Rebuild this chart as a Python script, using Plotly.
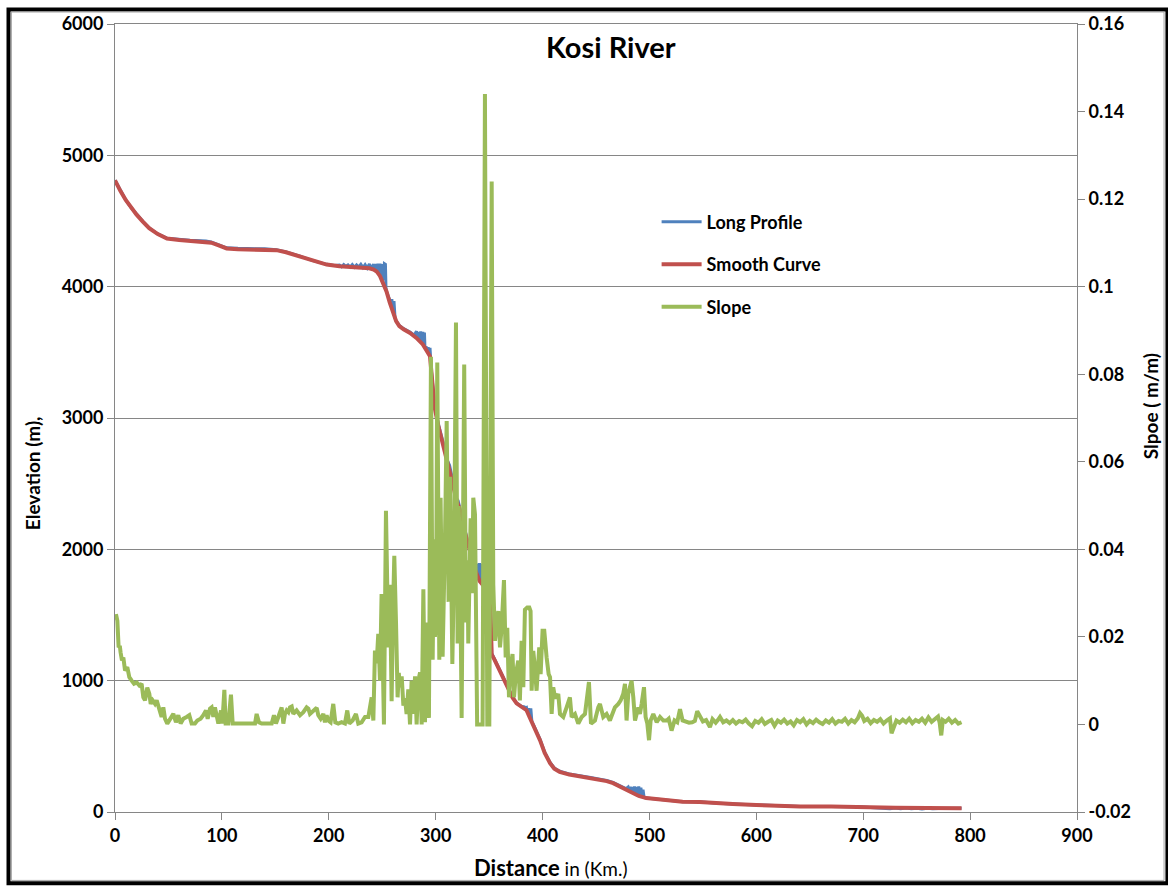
import plotly.graph_objects as go

# ---- Long profile of the Kosi River -------------------------------------
# Raw long profile (distance in km, elevation in m)
profile_km = [0, 5, 10, 15, 20, 26, 32, 40, 48.6, 60, 70, 75, 80, 85, 90, 97, 104.5, 115, 130,
              140, 151, 160, 173, 185, 198, 205, 210, 212, 214, 216, 218, 220, 222, 224, 226,
              228, 230, 232, 234, 236, 238, 240, 242, 243, 244, 245, 246, 247, 248, 249, 250,
              251, 252, 253, 253.5, 254, 256, 257, 258, 259, 260, 261, 262, 263, 266, 270, 276,
              280, 282, 283, 284, 285, 286, 287, 288, 289, 289.5, 290, 291, 292, 293, 294, 294.7,
              295.5, 296, 299, 302.5, 307, 311.5, 313, 315, 317, 319.6, 321, 322.7, 325, 327,
              330, 332, 335, 337, 339, 340, 341, 342, 343, 344, 345, 346, 348, 350.8, 351.6,
              352.4, 355, 358, 363, 368, 372, 375.7, 380, 383, 384, 385, 386, 387, 388, 389,
              390, 392, 397.6, 402, 407, 411, 416, 425, 438, 445, 450, 460, 466, 472, 478, 480,
              481, 482, 483, 484, 485, 486, 487, 488, 489, 490, 491, 492, 493, 494, 495, 497,
              510, 520, 531, 547, 560, 578, 600, 620, 641, 670, 697, 710, 720, 725, 730, 735,
              740, 745, 750, 755, 760, 765, 770, 780, 792]
profile_elev = [4810, 4730, 4662, 4602, 4552, 4498, 4447, 4402, 4369, 4358, 4354, 4352, 4352,
                4348, 4340, 4320, 4296, 4292, 4291, 4288, 4282, 4265, 4233, 4198, 4170, 4162,
                4165, 4152, 4168, 4155, 4166, 4150, 4168, 4148, 4166, 4150, 4170, 4145, 4168,
                4142, 4172, 4140, 4170, 4132, 4172, 4118, 4175, 4100, 4175, 4085, 4172, 4050,
                4175, 4170, 3990, 3964, 3920, 3900, 3850, 3905, 3810, 3890, 3760, 3740, 3705,
                3680, 3655, 3630, 3660, 3600, 3655, 3590, 3660, 3570, 3655, 3560, 3650, 3530,
                3545, 3510, 3540, 3480, 3535, 3420, 3360, 3095, 2955, 2815, 2665, 2640, 2560,
                2490, 2385, 2370, 2310, 2240, 2150, 2060, 2000, 1900, 1850, 1890, 1790, 1895,
                1770, 1890, 1745, 1885, 1725, 1710, 1695, 1460, 1210, 1165, 1115, 1030, 945,
                875, 830, 805, 800, 790, 795, 760, 790, 730, 790, 690, 655, 555, 455, 378, 335,
                310, 290, 275, 262, 255, 240, 225, 200, 178, 190, 160, 192, 150, 190, 145, 195,
                140, 190, 130, 195, 125, 185, 118, 170, 110, 106, 95, 85, 78, 78, 68, 61, 53,
                47, 42, 41, 40, 33, 29, 25, 31, 24, 30, 24, 29, 23, 28, 24, 27, 26, 28]

# Smoothed profile
smooth_km = [0, 1, 5, 10, 15, 20, 26, 32, 40, 48.6, 60, 70, 79.5, 90, 97, 104.5, 115, 130, 140,
             151, 160, 173, 185, 198, 210, 220, 230, 238, 242, 244.8, 248, 251, 254, 257, 260,
             263, 266, 270, 276, 282, 288, 292, 294.7, 296, 299, 302.5, 307, 311.5, 315, 319.6,
             322.7, 327, 332, 337, 341, 345, 350.8, 351.6, 352.4, 355, 358, 363, 368, 372,
             375.7, 380, 385, 388, 392, 397.6, 402, 407, 411, 416, 425, 438, 450, 460, 466, 472,
             478, 485, 490, 497, 510, 520, 531, 547, 560, 578, 600, 620, 641, 670, 697, 710,
             730, 760, 792]
smooth_elev = [4810, 4790, 4730, 4660, 4600, 4550, 4496, 4445, 4400, 4367, 4355, 4350, 4345,
               4335, 4315, 4291, 4285, 4285, 4283, 4278, 4262, 4230, 4195, 4168, 4155, 4150,
               4145, 4140, 4130, 4116, 4080, 4030, 3964, 3880, 3800, 3737, 3700, 3675, 3648,
               3610, 3560, 3510, 3470, 3350, 3080, 2940, 2800, 2650, 2530, 2370, 2300, 2140,
               1990, 1840, 1760, 1720, 1690, 1450, 1200, 1160, 1110, 1025, 940, 870, 827, 800,
               775, 720, 650, 547, 450, 372, 330, 306, 285, 268, 250, 235, 220, 195, 168, 144,
               122, 106, 95, 85, 78, 76, 68, 61, 53, 47, 42, 41, 40, 34, 32, 30, 28]

# Channel slope (m/m)
slope_km = [0.9, 1.5, 2.2, 3.4, 4.5, 5.2, 6.5, 7.8, 9.4, 11.5, 13.4, 15.6, 17.8, 20.3, 22.8,
            24.9, 26.5, 28.1, 30.2, 32.1, 33.4, 35.2, 37.4, 39.0, 41.5, 43.6, 45.2, 46.8, 48.9,
            51.4, 54.6, 57.0, 59.2, 61.4, 63.9, 67.0, 69.5, 71.7, 74.8, 77.0, 80.1, 82.6, 85.1,
            86.7, 88.9, 90.4, 92.0, 93.5, 95.1, 96.7, 99.2, 100.4, 102.3, 103.5, 106.0, 108.5,
            110.1, 131.0, 132.5, 134.7, 137.2, 141.9, 146.6, 148.7, 150.6, 152.8, 154.4, 155.9,
            157.5, 159.0, 160.6, 162.2, 163.7, 165.3, 166.8, 169.9, 173.1, 176.2, 179.3, 180.9,
            182.4, 185.6, 188.7, 190.2, 192.4, 194.9, 196.4, 198.0, 199.6, 201.7, 204.2, 206.1,
            208.9, 212.0, 215.1, 217.3, 219.2, 222.3, 225.4, 227.6, 230.7, 233.9, 237.0, 240.1,
            241.7, 243.2, 244.8, 246.3, 247.9, 249.4, 250.5, 251.6, 253.5, 254.8, 255.7, 257.2,
            258.8, 260.0, 261.3, 262.9, 264.4, 265.5, 266.6, 268.2, 269.8, 271.3, 272.8, 274.4,
            276.0, 277.5, 279.1, 280.7, 282.2, 283.8, 285.4, 286.9, 288.5, 290.0, 291.6, 293.7,
            295.6, 297.2, 298.4, 299.3, 300.3, 301.5, 303.4, 304.6, 306.5, 308.7, 310.3, 312.1,
            313.4, 315.6, 317.1, 319.0, 320.5, 321.6, 323.0, 324.3, 326.7, 328.3, 329.8, 330.5,
            332.7, 334.0, 335.2, 336.8, 337.7, 338.8, 341.5, 343.9, 346.1, 348.3, 350.2, 352.4,
            353.9, 355.5, 357.0, 358.6, 360.2, 361.7, 363.9, 365.5, 367.0, 368.6, 370.1, 371.9,
            373.3, 375.0, 377.3, 378.8, 380.4, 382.0, 383.5, 385.7, 387.6, 388.8, 389.8, 391.3,
            392.8, 394.4, 396.9, 398.2, 400.0, 401.6, 403.8, 405.7, 407.0, 408.5, 410.0, 411.6,
            413.2, 414.7, 416.3, 419.4, 422.5, 425.6, 427.2, 430.3, 433.4, 436.6, 439.7, 441.2,
            443.4, 445.3, 449.0, 452.1, 453.7, 456.8, 459.9, 463.0, 466.2, 467.7, 470.9, 473.1,
            475.5, 477.1, 478.6, 480.2, 481.7, 483.3, 484.9, 486.5, 489.6, 491.1, 492.7, 494.9,
            496.4, 498.0, 499.6, 501.1, 503.6, 506.8, 509.9, 513.0, 516.2, 518.0, 520.7, 523.5,
            526, 528.6, 531, 534, 537, 540, 542.5, 544.7, 547, 550, 553, 556.6, 559, 562, 564,
            566, 569, 572, 575, 578, 581, 584, 587, 590, 593, 596, 599, 602, 605, 608, 611, 614,
            617, 620, 623, 626, 629, 632, 635, 638, 641, 644, 647, 650, 653, 656, 659, 662, 665,
            668, 671, 674, 677, 680, 683, 686, 689, 692, 695, 697, 699, 701, 704, 707, 710, 713,
            716, 719, 722, 725, 726.5, 728, 731, 734, 737, 740, 743, 746, 749, 752, 755, 758,
            761, 764, 767, 770, 771.5, 773, 774.5, 777, 780, 783, 786, 789, 792]
slope_val = [0.0252, 0.0245, 0.0237, 0.0176, 0.0180, 0.0165, 0.0146, 0.0153, 0.0123, 0.0131,
             0.0108, 0.0100, 0.0093, 0.0096, 0.0089, 0.0093, 0.0062, 0.0055, 0.0084, 0.0070,
             0.0047, 0.0055, 0.0047, 0.0055, 0.0032, 0.0017, 0.0039, 0.0013, 0.0002, 0.0013,
             0.0024, 0.0005, 0.0021, 0.0002, 0.0013, 0.0017, 0.0021, 0.0002, 0.0002, 0.0009,
             0.0013, 0.0021, 0.0032, 0.0013, 0.0036, 0.0039, 0.0017, 0.0039, 0.0021, 0.0002,
             0.0032, 0.0002, 0.0079, 0.0002, 0.0002, 0.0068, 0.0002, 0.0002, 0.0024, 0.0005,
             0.0002, 0.0002, 0.0002, 0.0021, 0.0002, 0.0017, 0.0028, 0.0039, 0.0002, 0.0024,
             0.0032, 0.0028, 0.0039, 0.0041, 0.0024, 0.0032, 0.0021, 0.0028, 0.0039, 0.0036,
             0.0024, 0.0032, 0.0038, 0.0021, 0.0013, 0.0024, 0.0005, 0.0021, 0.0009, 0.0005,
             0.0047, 0.0005, 0.0002, 0.0005, 0.0002, 0.0032, 0.0002, 0.0009, 0.0024, 0.0002,
             0.0005, 0.0017, 0.0017, 0.0062, 0.0009, 0.0169, 0.0140, 0.0207, 0.0100, 0.0298,
             0.0150, 0.0000, 0.0488, 0.0280, 0.0176, 0.0319, 0.0053, 0.0250, 0.0385, 0.0233,
             0.0062, 0.0118, 0.0085, 0.0110, 0.0043, 0.0060, 0.0024, 0.0080, 0.0000, 0.0100,
             0.0024, 0.0110, 0.0000, 0.0100, 0.0119, 0.0000, 0.0309, 0.0005, 0.0233, 0.0015,
             0.0840, 0.0148, 0.0423, 0.0200, 0.0233, 0.0827, 0.0148, 0.0518, 0.0155, 0.0423,
             0.0693, 0.0280, 0.0566, 0.0138, 0.0347, 0.0918, 0.0185, 0.0499, 0.0328, 0.0015,
             0.0822, 0.0233, 0.0375, 0.0185, 0.0471, 0.0300, 0.0518, 0.0480, 0.0280, 0.0000,
             0.0000, 0.0000, 0.1440, 0.0000, 0.0000, 0.1240, 0.0320, 0.0191, 0.0229, 0.0259,
             0.0176, 0.0221, 0.0330, 0.0153, 0.0221, 0.0062, 0.0131, 0.0161, 0.0062, 0.0115,
             0.0146, 0.0055, 0.0191, 0.0085, 0.0262, 0.0267, 0.0267, 0.0259, 0.0077, 0.0168,
             0.0131, 0.0077, 0.0176, 0.0115, 0.0214, 0.0214, 0.0153, 0.0115, 0.0108, 0.0024,
             0.0085, 0.0062, 0.0062, 0.0070, 0.0024, 0.0017, 0.0039, 0.0062, 0.0017, 0.0024,
             0.0002, 0.0017, 0.0024, 0.0062, 0.0097, 0.0002, 0.0009, 0.0039, 0.0047, 0.0017,
             0.0024, 0.0009, 0.0032, 0.0039, 0.0047, 0.0055, 0.0070, 0.0093, 0.0009, 0.0070,
             0.0085, 0.0100, 0.0062, 0.0009, 0.0039, 0.0024, 0.0047, 0.0085, 0.0017, 0.0002,
             -0.0036, 0.0009, 0.0024, 0.0005, 0.0017, 0.0009, 0.0009, 0.0013, -0.0014, 0.0009,
             0.0005, 0.0035, 0.0009, 0.0006, 0.0004, 0.0005, 0.0008, 0.0030, 0.0018, 0.0007,
             0.0010, -0.0006, 0.0012, 0.0004, 0.0010, 0.0017, 0.0005, 0.0009, 0.0003, 0.0010,
             0.0002, 0.0008, 0.0005, 0.0011, 0.0002, -0.0004, 0.0008, 0.0004, 0.0012, 0.0001,
             0.0006, 0.0010, -0.0003, 0.0009, 0.0004, 0.0011, 0.0002, 0.0007, -0.0002, 0.0010,
             0.0005, 0.0012, 0.0000, 0.0008, 0.0003, 0.0011, 0.0005, 0.0001, 0.0009, 0.0004,
             0.0012, 0.0002, 0.0008, 0.0006, 0.0013, 0.0002, 0.0010, 0.0005, 0.0014, 0.0026,
             0.0020, 0.0008, 0.0013, 0.0003, 0.0010, 0.0006, 0.0012, 0.0002, 0.0009, 0.0014,
             -0.0020, -0.0008, 0.0009, 0.0004, 0.0011, 0.0005, 0.0013, 0.0003, 0.0010, 0.0006,
             0.0013, 0.0004, 0.0016, 0.0006, 0.0012, 0.0018, 0.0004, -0.0025, 0.0010, 0.0006,
             0.0013, 0.0004, 0.0010, 0.0002, 0.0005]

# Axis ticks
x_ticks = [0, 100, 200, 300, 400, 500, 600, 700, 800, 900]
elev_ticks = [0, 1000, 2000, 3000, 4000, 5000, 6000]
slope_ticks = [-0.02, 0, 0.02, 0.04, 0.06, 0.08, 0.1, 0.12, 0.14, 0.16]
slope_tick_text = ["-0.02", "0", "0.02", "0.04", "0.06", "0.08", "0.1", "0.12", "0.14", "0.16"]

FONT = "Lato"
AXIS_GREY = "#868686"
BLUE, RED, GREEN = "#4F81BD", "#C0504D", "#9BBB59"

fig = go.Figure()
fig.add_trace(go.Scatter(x=profile_km, y=profile_elev, mode="lines", name="Long Profile",
                         line=dict(color=BLUE, width=3), legendgroup="a"))
fig.add_trace(go.Scatter(x=smooth_km, y=smooth_elev, mode="lines", name="Smooth Curve",
                         line=dict(color=RED, width=4), legendgroup="b"))
fig.add_trace(go.Scatter(x=slope_km, y=slope_val, mode="lines", name="Slope", yaxis="y2",
                         line=dict(color=GREEN, width=4), legendgroup="c"))

tick_font = dict(family=FONT, size=18, color="black", weight="bold")

fig.update_layout(
    width=1168, height=886,
    margin=dict(l=115, r=91, t=22, b=74),
    paper_bgcolor="white", plot_bgcolor="white",
    font=dict(family=FONT, color="black"),
    showlegend=True,
    legend=dict(x=0.563, y=0.772, xanchor="left", yanchor="top", itemwidth=40,
                font=dict(family=FONT, size=18, color="black", weight="bold"),
                bgcolor="rgba(0,0,0,0)", traceorder="grouped", tracegroupgap=16),
    xaxis=dict(range=[0, 900], tickvals=x_ticks, ticks="outside", ticklen=7,
               tickcolor=AXIS_GREY, showline=True, linecolor=AXIS_GREY, linewidth=1,
               mirror=True, showgrid=False, zeroline=False, tickfont=tick_font),
    yaxis=dict(range=[0, 6000], tickvals=elev_ticks, ticks="outside", ticklen=7,
               tickcolor=AXIS_GREY, showline=True, linecolor=AXIS_GREY, linewidth=1,
               showgrid=True, gridcolor=AXIS_GREY, gridwidth=1, zeroline=False,
               tickfont=tick_font),
    yaxis2=dict(range=[-0.02, 0.16], tickvals=slope_ticks, ticktext=slope_tick_text,
                overlaying="y", side="right", ticks="outside", ticklen=7,
                tickcolor=AXIS_GREY, showline=True, linecolor=AXIS_GREY, linewidth=1,
                showgrid=False, zeroline=False, tickfont=tick_font),
)

# Titles
title_style = dict(xref="paper", yref="paper", showarrow=False,
                   xanchor="center", yanchor="middle")
fig.add_annotation(text="<b>Kosi River</b>", x=0.516, y=0.971,
                   font=dict(family=FONT, size=29, color="black"), **title_style)
fig.add_annotation(text="<b>Elevation (m),</b>", x=-0.0863, y=0.43, textangle=-90,
                   font=dict(family=FONT, size=19, color="black"), **title_style)
fig.add_annotation(text="<b>Slpoe ( m/m)</b>", x=1.076, y=0.515, textangle=-90,
                   font=dict(family=FONT, size=19, color="black"), **title_style)
fig.add_annotation(text="<b>Distance</b><span style='font-size:19px'> in (Km.)</span>",
                   x=0.453, y=-0.0709, font=dict(family=FONT, size=22, color="black"),
                   **title_style)

# Chart frame
fig.add_shape(type="rect", xref="paper", yref="paper", x0=-0.1107, x1=1.094, y0=-0.0905,
              y1=1.0184, line=dict(color="black", width=4), layer="above")
fig.add_shape(type="rect", xref="paper", yref="paper", x0=-0.1077, x1=1.0905, y0=-0.0868,
              y1=1.0152, line=dict(color="#a6a6a6", width=1), layer="above")

fig.write_html("out.html")
